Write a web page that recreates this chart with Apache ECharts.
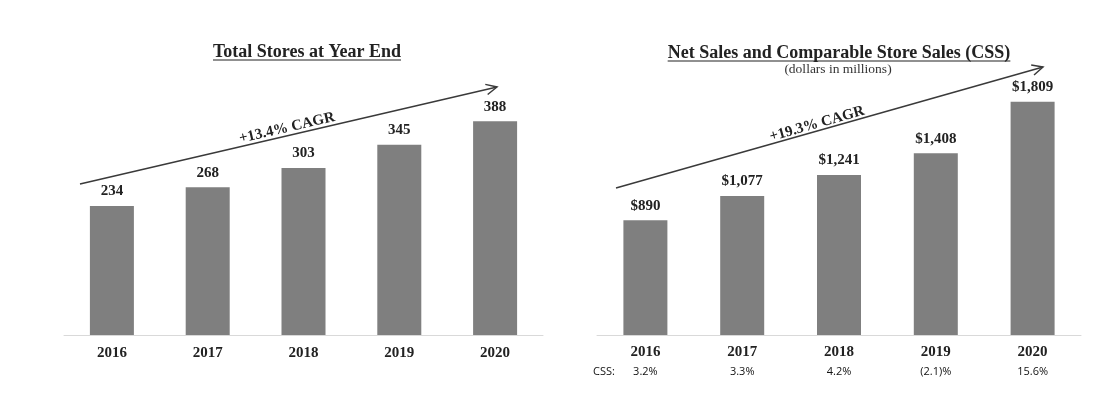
<!DOCTYPE html>
<html><head><meta charset="utf-8">
<script src="https://cdn.jsdelivr.net/npm/echarts@6/dist/echarts.min.js"></script>
<style>html,body{margin:0;padding:0;background:#fff}#c{width:1108px;height:393px}</style>
</head><body><div id="c"></div>
<script>
const years = ['2016','2017','2018','2019','2020'];
const stores = [234, 268, 303, 345, 388];
const netSales = [890, 1077, 1241, 1408, 1809];
const css = ['3.2%', '3.3%', '4.2%', '(2.1)%', '15.6%'];
const titleLeft = 'Total Stores at Year End';
const titleRight = 'Net Sales and Comparable Store Sales (CSS)';
const subtitleRight = '(dollars in millions)';
const cagrLeft = '+13.4% CAGR';
const cagrRight = '+19.3% CAGR';

const serif = '"Liberation Serif", "Times New Roman", serif';
const sans = '"Open Sans", "Liberation Sans", sans-serif';
const dark = '#222';
const barColor = '#7f7f7f';

function arrow(x1, y1, x2, y2) {
  const ang = Math.atan2(y2 - y1, x2 - x1);
  const L = 12, a = 0.45;
  const p1 = [x2 - L * Math.cos(ang - a), y2 - L * Math.sin(ang - a)];
  const p2 = [x2 - L * Math.cos(ang + a), y2 - L * Math.sin(ang + a)];
  return [
    { type: 'line', shape: { x1, y1, x2, y2 }, style: { stroke: '#3a3a3a', lineWidth: 1.5 } },
    { type: 'polyline', shape: { points: [p1, [x2, y2], p2] }, style: { stroke: '#3a3a3a', lineWidth: 1.5, fill: null } }
  ];
}

const chart = echarts.init(document.getElementById('c'), null, { renderer: 'canvas' });

function underlinedTitle(text, cx, cy) {
  const ctx = document.createElement('canvas').getContext('2d');
  ctx.font = 'bold 18px ' + serif;
  const tw = ctx.measureText(text).width;
  return [
    { type: 'text', x: cx, y: cy,
      style: { text, font: 'bold 18px ' + serif, fill: dark, textAlign: 'center', textVerticalAlign: 'middle' } },
    { type: 'line', shape: { x1: cx - tw / 2, y1: cy + 7.5, x2: cx + tw / 2, y2: cy + 7.5 },
      style: { stroke: dark, lineWidth: 1.2 } }
  ];
}

chart.setOption({
  animation: false,
  grid: [
    { left: 64, width: 479, top: 87, height: 248 },
    { left: 597, width: 484, top: 77, height: 258 }
  ],
  xAxis: [
    { type: 'category', gridIndex: 0, data: years,
      axisLine: { lineStyle: { color: '#d9d9d9', width: 1 } }, axisTick: { show: false },
      axisLabel: { margin: 11, fontFamily: serif, fontWeight: 'bold', fontSize: 15, color: dark } },
    { type: 'category', gridIndex: 1, data: years,
      axisLine: { lineStyle: { color: '#d9d9d9', width: 1 } }, axisTick: { show: false },
      axisLabel: { margin: 8,
        formatter: (v, i) => '{y|' + v + '}\n{c|' + css[i] + '}',
        rich: {
          y: { fontFamily: serif, fontWeight: 'bold', fontSize: 15, color: dark, lineHeight: 18 },
          c: { fontFamily: sans, fontSize: 11, color: '#111', lineHeight: 22 }
        } } }
  ],
  yAxis: [
    { type: 'value', gridIndex: 0, min: 0, max: 450, show: false, splitLine: { show: false } },
    { type: 'value', gridIndex: 1, min: 0, max: 2000, show: false, splitLine: { show: false } }
  ],
  series: [
    { type: 'bar', xAxisIndex: 0, yAxisIndex: 0, data: stores, barWidth: 44,
      itemStyle: { color: barColor },
      label: { show: true, position: 'top', distance: 7, fontFamily: serif, fontWeight: 'bold', fontSize: 15, color: dark } },
    { type: 'bar', xAxisIndex: 1, yAxisIndex: 1, data: netSales, barWidth: 44,
      itemStyle: { color: barColor },
      label: { show: true, position: 'top', distance: 7, fontFamily: serif, fontWeight: 'bold', fontSize: 15, color: dark,
        formatter: p => '$' + p.value.toLocaleString('en-US') } }
  ],
  graphic: [
    ...underlinedTitle(titleLeft, 307, 52.5),
    ...underlinedTitle(titleRight, 839, 53.5),
    { type: 'text', x: 838, y: 69,
      style: { text: subtitleRight, font: '13.5px ' + serif, fill: '#333', textAlign: 'center', textVerticalAlign: 'middle' } },
    ...arrow(80, 184, 497, 87),
    ...arrow(616, 188, 1043, 67),
    { type: 'text', x: 287, y: 128, rotation: Math.atan2(97, 417),
      style: { text: cagrLeft, font: 'bold 15px ' + serif, fill: dark, textAlign: 'center', textVerticalAlign: 'middle' } },
    { type: 'text', x: 817, y: 124, rotation: Math.atan2(121, 427),
      style: { text: cagrRight, font: 'bold 15px ' + serif, fill: dark, textAlign: 'center', textVerticalAlign: 'middle' } },
    { type: 'text', x: 593, y: 372,
      style: { text: 'CSS:', font: '11px ' + sans, fill: '#111', textAlign: 'left', textVerticalAlign: 'middle' } }
  ]
});
</script></body></html>
